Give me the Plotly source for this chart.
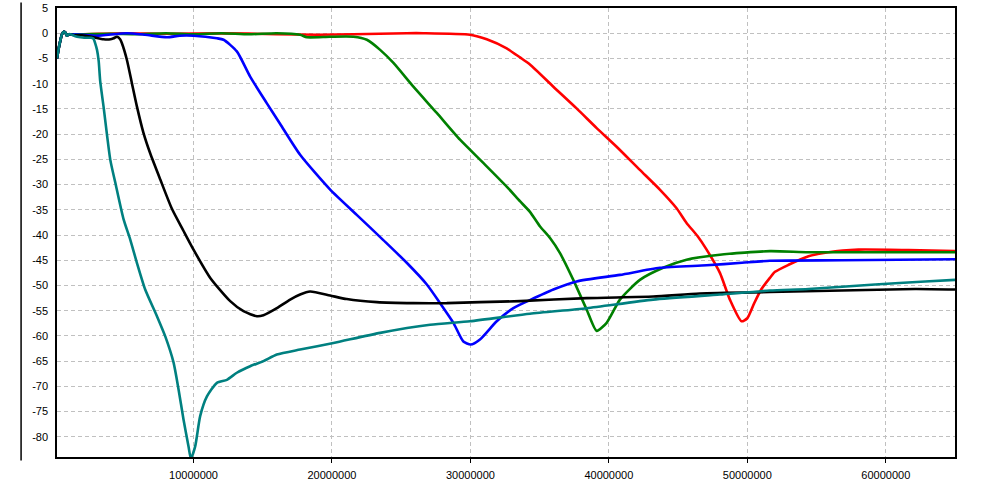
import plotly.graph_objects as go

# ---- data (x in millions, y values) ----
start_x = [0.14, 0.30, 0.50, 0.62, 0.75, 0.85, 1.00, 1.10]
start_y = [-5.0, -2.5, -0.2, 0.3, 0.1, -0.5, -0.2, -0.2]

teal_x = [1.30, 1.46, 1.82, 2.10, 2.40, 2.60, 2.78, 2.90, 3.03, 3.15, 3.26, 3.50, 3.99, 4.35,
          4.95, 5.43, 5.91, 6.51, 7.36, 7.96, 8.56, 8.92, 9.28, 9.64, 9.81, 10.12, 10.48,
          10.97, 11.69, 12.41, 13.13, 14.09, 15.05, 16.02, 17.70, 20.11, 23.48, 27.09, 29.97,
          34.30, 38.40, 43.20, 48.02, 51.63, 54.42, 59.23, 62.84, 65.00]
teal_y = [-0.4, -0.6, -0.8, -0.9, -0.9, -0.9, -1.1, -2.0, -3.3, -5.5, -9.5, -14.5, -25.1, -29.6,
          -36.9, -40.9, -45.5, -50.8, -56.1, -60.1, -65.3, -70.6, -76.6, -81.9, -84.3, -81.9, -75.9,
          -72.0, -69.3, -68.7, -67.3, -66.0, -65.0, -63.7, -62.7, -61.4, -59.4, -57.8, -57.1,
          -55.6, -54.5, -52.8, -51.8, -51.0, -50.7, -49.8, -49.2, -48.9]

black_x = [1.46, 1.94, 2.78, 3.50, 4.00, 4.23, 4.47, 4.70, 4.83, 5.19, 5.55, 5.91, 6.39, 6.87,
           7.60, 8.44, 9.28, 10.00, 11.21, 12.65, 13.61, 14.58, 15.05, 16.02, 16.98, 17.70,
           18.42, 19.87, 21.07, 23.24, 25.88, 28.29, 30.69, 33.58, 38.40, 43.20, 46.57, 51.63,
           56.82, 62.12, 65.00]
black_y = [-0.4, -0.4, -0.8, -1.2, -1.2, -1.0, -0.7, -1.2, -2.0, -5.3, -9.9, -14.5, -19.8, -23.8,
           -29.0, -34.8, -39.2, -42.9, -48.5, -53.1, -55.1, -56.1, -55.9, -54.5, -52.8, -51.8,
           -51.2, -52.0, -52.7, -53.3, -53.5, -53.5, -53.3, -53.1, -52.5, -52.2, -51.6, -51.3,
           -51.0, -50.7, -50.8]

blue_x = [1.94, 3.00, 5.19, 6.50, 8.08, 9.00, 10.00, 11.69, 12.17, 13.13, 14.09, 15.30, 16.26,
          17.70, 19.87, 21.79, 23.71, 25.40, 26.85, 27.81, 28.77, 29.49, 30.02, 30.69, 31.90,
          33.10, 34.30, 35.99, 37.67, 40.80, 43.68, 47.06, 49.61, 51.63, 56.82, 65.00]
blue_y = [-0.3, -0.5, 0.0, -0.3, -0.8, -0.5, -0.5, -1.0, -1.3, -3.6, -8.6, -13.9, -18.0,
          -24.1, -31.0, -36.0, -41.0, -45.5, -49.8, -53.5, -57.4, -61.1, -61.7, -60.7, -57.1,
          -54.5, -52.9, -50.8, -49.2, -47.9, -46.5, -46.0, -45.5, -45.1, -45.0, -44.8]

green_x = [1.94, 4.00, 6.00, 8.00, 10.00, 12.00, 14.00, 16.00, 17.70, 18.19, 19.87, 21.55, 22.52,
           23.48, 24.44, 25.88, 27.57, 29.25, 30.93, 32.62, 33.58, 34.30, 35.03, 35.75, 36.47,
           37.43, 38.40, 39.12, 39.84, 40.80, 42.24, 43.92, 45.61, 48.02, 51.63, 54.42, 60.43,
           65.00]
green_y = [-0.2, -0.1, -0.2, 0.0, -0.2, 0.0, -0.2, 0.0, -0.3, -0.8, -0.7, -0.7, -1.3,
           -3.3, -5.9, -10.6, -15.8, -21.1, -25.7, -30.4, -33.3, -35.4, -38.3, -40.6, -43.6,
           -48.9, -54.8, -59.0, -57.4, -52.8, -48.9, -46.5, -44.9, -43.9, -43.2, -43.4, -43.4,
           -43.4]

red_x = [2.00, 5.00, 8.00, 12.00, 16.00, 19.00, 21.55, 25.40, 26.60, 29.97, 31.18, 32.62, 33.58,
         34.30, 35.99, 37.67, 39.12, 40.56, 42.24, 43.68, 44.89, 45.61, 46.40, 47.06, 48.02,
         48.74, 49.58, 50.00, 50.50, 51.00, 51.63, 52.00, 52.98, 54.42, 55.86, 58.03, 61.64,
         65.00]
red_y = [-0.2, 0.0, -0.1, 0.0, -0.2, -0.3, -0.2, 0.0, 0.0, -0.3, -1.2, -3.0, -4.8,
         -6.2, -10.6, -14.9, -18.8, -22.5, -27.1, -31.0, -34.7, -37.6, -40.2, -42.9, -47.5,
         -52.8, -57.1, -56.5, -53.5, -50.8, -48.5, -47.3, -45.9, -44.2, -43.4, -42.9, -43.0,
         -43.2]

x_tickvals = [10000000, 20000000, 30000000, 40000000, 50000000, 60000000]
x_ticktext = ["10000000", "20000000", "30000000", "40000000", "50000000", "60000000"]
y_tickvals = [5, 0, -5, -10, -15, -20, -25, -30, -35, -40, -45, -50, -55, -60, -65, -70, -75, -80]
y_ticktext = [str(v) for v in y_tickvals]

series = [
    ("red", red_x, red_y, "#ff0000"),
    ("green", green_x, green_y, "#008000"),
    ("blue", blue_x, blue_y, "#0000ff"),
    ("black", black_x, black_y, "#000000"),
    ("teal", teal_x, teal_y, "#008080"),
]

fig = go.Figure()
for name, xs, ys, color in series:
    xx = [v * 1e6 for v in start_x + xs]
    yy = start_y + ys
    fig.add_trace(go.Scatter(x=xx, y=yy, mode="lines", name=name,
                             line=dict(color=color, width=2.6, shape="spline", smoothing=0.6),
                             hoverinfo="skip"))

font = dict(family="Liberation Sans, Arial, sans-serif", size=11, color="#000000")

fig.update_layout(
    width=992, height=481,
    margin=dict(l=57, r=37, t=8, b=24, autoexpand=False),
    paper_bgcolor="white", plot_bgcolor="white",
    showlegend=False,
    font=font,
    xaxis=dict(range=[140000, 65000000], tickvals=x_tickvals, ticktext=x_ticktext,
               showgrid=True, gridcolor="#c0c0c0", griddash="4px,3px", gridwidth=1,
               zeroline=False, showline=True, linecolor="#000000", linewidth=1.5, mirror=True,
               ticks="outside", ticklen=4, tickcolor="#000000", tickfont=font,
               ticklabelstandoff=3, automargin=False),
    yaxis=dict(range=[-84, 5], tickvals=y_tickvals, ticktext=y_ticktext,
               showgrid=True, gridcolor="#c0c0c0", griddash="4px,3px", gridwidth=1,
               zeroline=False, showline=True, linecolor="#000000", linewidth=1.5, mirror=True,
               ticks="", tickfont=font, ticklabelstandoff=5, automargin=False),
)

fig.add_shape(type="line", xref="paper", yref="paper", x0=-0.04, x1=-0.04,
              y0=-0.008, y1=1.012, line=dict(color="#000000", width=1.5))

fig.write_html("out.html", config={"displayModeBar": False},
               post_script="document.body.style.margin='0px';")
